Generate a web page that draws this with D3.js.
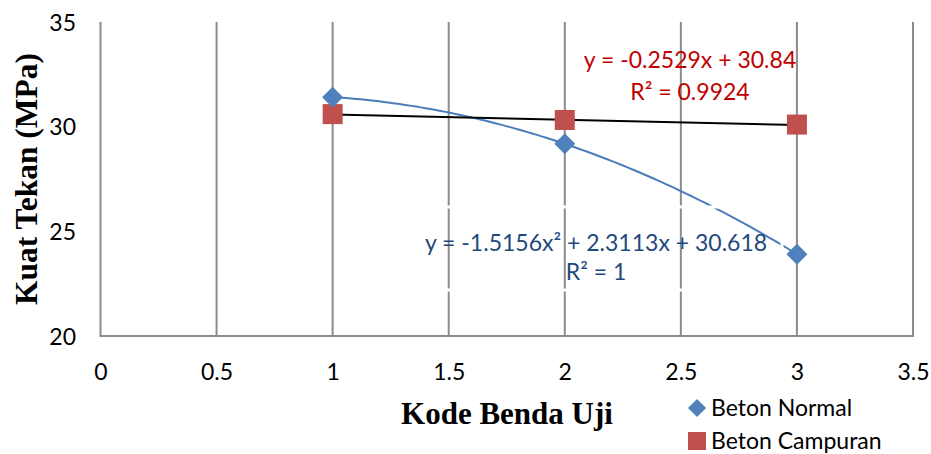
<!DOCTYPE html>
<html>
<head>
<meta charset="utf-8">
<script src="https://cdn.jsdelivr.net/npm/d3@7"></script>
<style>
  body { margin: 0; background: #fff; }
  text { font-family: Lato, "Open Sans", sans-serif; }
  .title { font-family: "Liberation Serif", "DejaVu Serif", serif; font-weight: bold; }
</style>
</head>
<body>
<div id="viz"></div>
<script>
//==============================================================================
// Data
var kode = [1, 2, 3];
var beton_normal = [31.41, 29.18, 23.91];
var beton_campuran = [30.6, 30.32, 30.1];
var x_ticks = [0, 0.5, 1, 1.5, 2, 2.5, 3, 3.5];
var y_ticks = [20, 25, 30, 35];
var poly_coef = [-1.5156, 2.3113, 30.618];
var lin_coef = [-0.2529, 30.84];

//==============================================================================
// Layout
var width = 931, height = 454;
var plot_left = 100.5, plot_right = 913, plot_top = 22, plot_bottom = 336;
var font_size = 23;

var svg = d3.select("#viz").append("svg")
  .attr("width", width)
  .attr("height", height);

var x = d3.scaleLinear().domain([0, 3.5]).range([plot_left, plot_right]);
var y = d3.scaleLinear().domain([20, 35]).range([plot_bottom, plot_top]);

// vertical gridlines
svg.append("g").selectAll("line")
  .data(x_ticks)
  .enter().append("line")
  .attr("x1", function(d) { return x(d); })
  .attr("x2", function(d) { return x(d); })
  .attr("y1", plot_top)
  .attr("y2", plot_bottom)
  .attr("stroke", "#8c8c8c")
  .attr("stroke-width", 2);

// bottom axis line
svg.append("line")
  .attr("x1", x(0) - 1).attr("x2", x(3.5) + 1)
  .attr("y1", plot_bottom).attr("y2", plot_bottom)
  .attr("stroke", "#8c8c8c").attr("stroke-width", 2);

// tick labels
var xAxis = d3.axisBottom(x).tickValues(x_ticks).tickSize(0).tickPadding(0)
  .tickFormat(function(d) { return String(d); });
var gx = svg.append("g").attr("transform", "translate(0," + (plot_bottom + 24) + ")").call(xAxis);
gx.select(".domain").remove();
gx.selectAll("text").attr("font-size", font_size).attr("fill", "#000")
  .attr("font-family", "Lato, sans-serif").attr("dy", "0.36em").attr("y", 12);

var yAxis = d3.axisLeft(y).tickValues(y_ticks).tickSize(0).tickPadding(0);
var gy = svg.append("g").attr("transform", "translate(76,0)").call(yAxis);
gy.select(".domain").remove();
gy.selectAll("text").attr("font-size", font_size).attr("fill", "#000")
  .attr("font-family", "Lato, sans-serif").attr("dy", "0.36em");

//==============================================================================
// Trendlines
var poly = function(t) { return poly_coef[0] * t * t + poly_coef[1] * t + poly_coef[2]; };
var lin = function(t) { return lin_coef[0] * t + lin_coef[1]; };

var curve_pts = d3.range(1, 3.001, 0.02);
svg.append("path")
  .datum(curve_pts)
  .attr("d", d3.line().x(function(d) { return x(d); }).y(function(d) { return y(poly(d)); }))
  .attr("fill", "none")
  .attr("stroke", "#4a7ebb")
  .attr("stroke-width", 2);

svg.append("line")
  .attr("x1", x(1)).attr("y1", y(lin(1)))
  .attr("x2", x(3)).attr("y2", y(lin(3)))
  .attr("stroke", "#000").attr("stroke-width", 2);

// white outline of the polynomial label box (breaks the gridlines)
svg.append("rect")
  .attr("x", 412).attr("y", 207).attr("width", 370).attr("height", 83)
  .attr("fill", "none").attr("stroke", "#fff").attr("stroke-width", 3);

//==============================================================================
// Markers
var diamond = d3.symbol().type(d3.symbolDiamond2).size(280);
var diamond_small = d3.symbol().type(d3.symbolDiamond2).size(210);

svg.append("g").selectAll("rect")
  .data(kode)
  .enter().append("rect")
  .attr("x", function(d) { return x(d) - 10; })
  .attr("y", function(d, i) { return y(beton_campuran[i]) - 10; })
  .attr("width", 20).attr("height", 20)
  .attr("fill", "#c0504d");

svg.append("g").selectAll("path")
  .data(kode)
  .enter().append("path")
  .attr("d", diamond)
  .attr("transform", function(d, i) { return "translate(" + x(d) + "," + y(beton_normal[i]) + ")"; })
  .attr("fill", "#4f81bd");

//==============================================================================
// Equation labels
var eq_red = svg.append("g").attr("fill", "#c00000").attr("font-size", font_size).attr("text-anchor", "middle");
eq_red.append("text").attr("x", 690).attr("y", 68).text("y = -0.2529x + 30.84");
eq_red.append("text").attr("x", 690).attr("y", 100).text("R² = 0.9924");

var eq_blue = svg.append("g").attr("fill", "#1f497d").attr("font-size", font_size).attr("text-anchor", "middle");
eq_blue.append("text").attr("x", 596).attr("y", 251).text("y = -1.5156x² + 2.3113x + 30.618");
eq_blue.append("text").attr("x", 596).attr("y", 280).text("R² = 1");

//==============================================================================
// Axis titles
svg.append("text")
  .attr("class", "title")
  .attr("x", 507).attr("y", 424)
  .attr("text-anchor", "middle")
  .attr("font-size", 31)
  .text("Kode Benda Uji");

svg.append("text")
  .attr("class", "title")
  .attr("transform", "translate(37,179) rotate(-90)")
  .attr("text-anchor", "middle")
  .attr("font-size", 31.5)
  .text("Kuat Tekan (MPa)");

//==============================================================================
// Legend
var legend = svg.append("g").attr("font-size", font_size);
legend.append("path")
  .attr("d", diamond_small)
  .attr("transform", "translate(697,408)")
  .attr("fill", "#4f81bd");
legend.append("text").attr("x", 711).attr("y", 408).attr("dy", "0.36em").text("Beton Normal");
legend.append("rect")
  .attr("x", 688).attr("y", 432).attr("width", 18).attr("height", 18)
  .attr("fill", "#c0504d");
legend.append("text").attr("x", 711).attr("y", 441).attr("dy", "0.36em").text("Beton Campuran");
</script>
</body>
</html>
